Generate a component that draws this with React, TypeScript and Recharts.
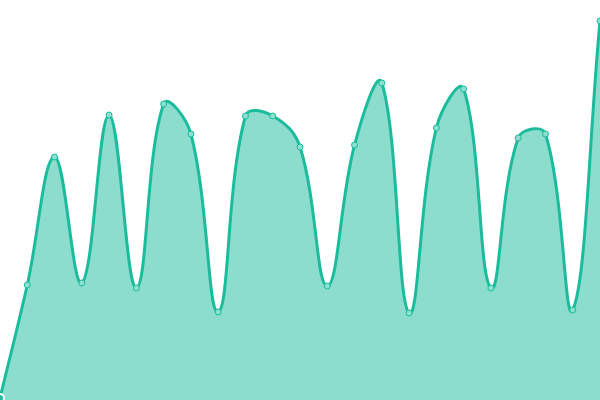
import { AreaChart, Area, XAxis, YAxis } from 'recharts'

const steps = [
  'p0', 'p1', 'p2', 'p3', 'p4', 'p5', 'p6', 'p7', 'p8', 'p9', 'p10', 'p11',
  'p12', 'p13', 'p14', 'p15', 'p16', 'p17', 'p18', 'p19', 'p20', 'p21', 'p22',
]
const values = [
  2, 115, 243, 117, 285, 112, 296, 266, 88, 284, 284, 253,
  114, 255, 317, 87, 272, 311, 112, 262, 266, 90, 379,
]

const data = steps.map((name, i) => ({ name, value: values[i] }))

const TENSION = 0.4

// spline with tension, control points scaled by neighbour distances
function tensionCurve(context: any) {
  let pts: [number, number][] = []
  let line = NaN

  function draw() {
    const n = pts.length
    if (!n) return
    if (line) context.lineTo(pts[0][0], pts[0][1])
    else context.moveTo(pts[0][0], pts[0][1])
    if (n === 1) return
    const prevCp: [number, number][] = []
    const nextCp: [number, number][] = []
    for (let i = 0; i < n; i++) {
      const p0 = pts[Math.max(0, i - 1)]
      const p1 = pts[i]
      const p2 = pts[Math.min(n - 1, i + 1)]
      const d01 = Math.hypot(p1[0] - p0[0], p1[1] - p0[1])
      const d12 = Math.hypot(p2[0] - p1[0], p2[1] - p1[1])
      let s01 = d01 / (d01 + d12)
      let s12 = d12 / (d01 + d12)
      if (isNaN(s01)) s01 = 0
      if (isNaN(s12)) s12 = 0
      const fa = TENSION * s01
      const fb = TENSION * s12
      prevCp.push([p1[0] - fa * (p2[0] - p0[0]), p1[1] - fa * (p2[1] - p0[1])])
      nextCp.push([p1[0] + fb * (p2[0] - p0[0]), p1[1] + fb * (p2[1] - p0[1])])
    }
    for (let i = 1; i < n; i++) {
      const a = nextCp[i - 1]
      const b = prevCp[i]
      context.bezierCurveTo(a[0], a[1], b[0], b[1], pts[i][0], pts[i][1])
    }
  }

  return {
    areaStart() { line = 0 },
    areaEnd() { line = NaN },
    lineStart() { pts = [] },
    lineEnd() {
      draw()
      if (line || (line !== 0 && pts.length === 1)) context.closePath()
      line = 1 - line
    },
    point(x: number, y: number) { pts.push([+x, +y]) },
  }
}

export default function App() {
  return (
    <div style={{ position: 'fixed', left: 0, top: 0, width: 600, height: 400, background: '#fff' }}>
      <AreaChart width={600} height={400} data={data} margin={{ top: 0, right: 0, bottom: 0, left: 0 }}>
        <XAxis dataKey="name" hide />
        <YAxis hide domain={[0, 400]} />
        <Area
          type={tensionCurve as any}
          dataKey="value"
          stroke="#1abc9c"
          strokeWidth={3}
          fill="#1abc9c"
          fillOpacity={0.5}
          dot={{ r: 3, fill: '#8de0cf', stroke: '#1abc9c', strokeWidth: 1, fillOpacity: 1 }}
          isAnimationActive={false}
        />
      </AreaChart>
    </div>
  )
}
